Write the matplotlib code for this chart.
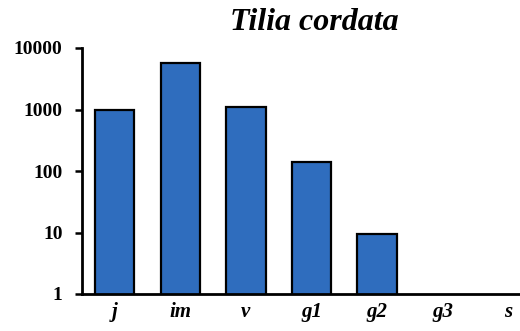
import matplotlib
matplotlib.use("Agg")
import matplotlib.pyplot as plt

categories = ["j", "im", "v", "g1", "g2", "g3", "s"]
values = [1000, 5800, 1100, 140, 9.4, 0, 0]
yticks = [1, 10, 100, 1000, 10000]
ytick_labels = ["1", "10", "100", "1000", "10000"]

plt.rcParams['font.family'] = ['Liberation Serif', 'DejaVu Serif']

fig = plt.figure(figsize=(5.2, 3.31), dpi=100)
ax = fig.add_axes([82/520, 37/331, 438/520, 246/331])

x = list(range(len(categories)))
ax.bar(x, values, width=0.6, color="#2F6DBE", edgecolor="black", linewidth=1.6, bottom=0)
ax.set_yscale("log")
ax.set_ylim(1, 10000)
ax.set_xlim(-0.5, 6.18)
ax.set_yticks(yticks)
ax.set_yticklabels(ytick_labels, fontsize=14, fontweight="bold")
ax.yaxis.set_minor_locator(matplotlib.ticker.NullLocator())
ax.set_xticks(x)
ax.set_xticklabels(categories, fontsize=15, fontweight="bold", fontstyle="italic")
ax.tick_params(axis="x", length=0, pad=6)
ax.tick_params(axis="y", direction="out", length=5, width=1.8, pad=9)
for s in ["top", "right"]:
    ax.spines[s].set_visible(False)
for s in ["left", "bottom"]:
    ax.spines[s].set_linewidth(2)

fig.text(314/520, 1 - 22/331, "Tilia cordata", ha="center", va="center",
         fontsize=23, fontweight="bold", fontstyle="italic")

fig.savefig("out.png", dpi=100)
